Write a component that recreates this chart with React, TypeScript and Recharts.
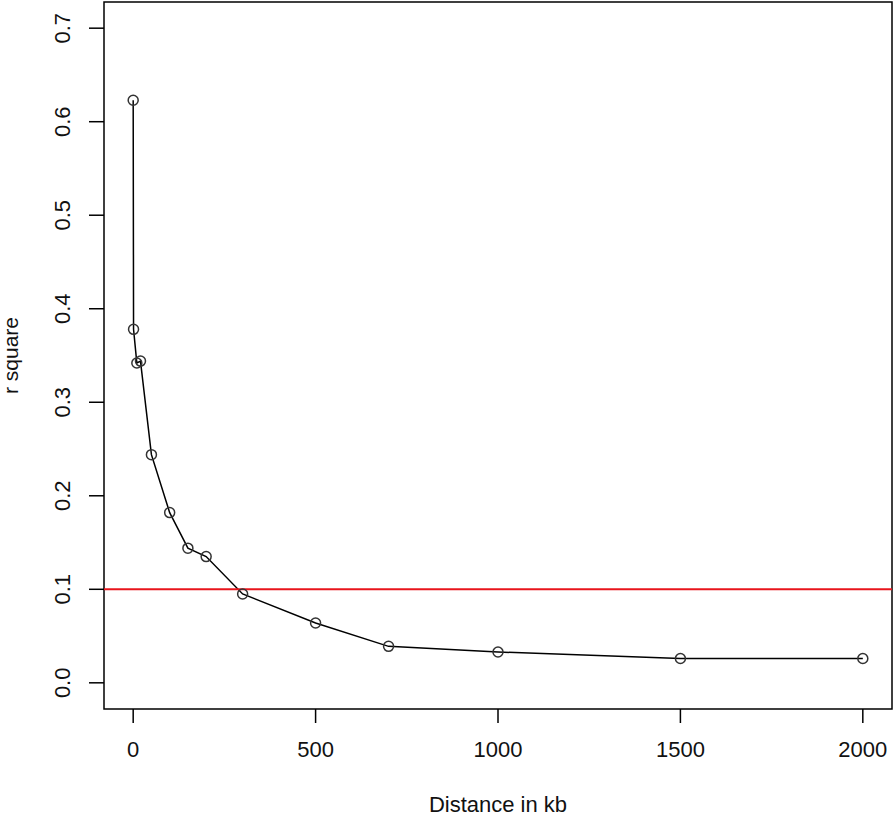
import {
  Line,
  LineChart,
  ReferenceArea,
  ReferenceLine,
  XAxis,
  YAxis,
} from "recharts";

const distances = [0, 1, 10, 20, 50, 100, 150, 200, 300, 500, 700, 1000, 1500, 2000];
const rSquare = [0.623, 0.378, 0.342, 0.344, 0.244, 0.182, 0.144, 0.135, 0.095, 0.064, 0.039, 0.033, 0.026, 0.026];
const xTicks = [0, 500, 1000, 1500, 2000];
const yTicks = [0, 0.1, 0.2, 0.3, 0.4, 0.5, 0.6, 0.7];
const threshold = 0.1;

const data = distances.map((d, i) => ({ dist: d, r2: rSquare[i] }));

const font = "'Liberation Sans', Arial, sans-serif";

const YTick = ({ x, y, payload }: any) => (
  <text
    x={x}
    y={y}
    transform={`rotate(-90, ${x}, ${y})`}
    textAnchor="middle"
    dominantBaseline="central"
    fontFamily={font}
    fontSize={22}
    fill="#111"
  >
    {payload.value.toFixed(1)}
  </text>
);

const Circle = ({ cx, cy }: any) => (
  <circle cx={cx} cy={cy} r={5} fill="none" stroke="#333" strokeWidth={1.5} />
);

export default function App() {
  return (
    <div style={{ position: "absolute", left: 0, top: 0, background: "#fff" }}>
      <LineChart
        width={896}
        height={815}
        data={data}
        margin={{ top: 2, right: 4, bottom: 0, left: 0 }}
      >
        <XAxis
          dataKey="dist"
          type="number"
          domain={[-80, 2080]}
          ticks={xTicks}
          height={106}
          axisLine={false}
          tickSize={14}
          tickMargin={18}
          tickLine={{ stroke: "#000", strokeWidth: 1.5 }}
          tick={{ fontFamily: font, fontSize: 22, fill: "#111" }}
          label={({ viewBox }: any) => (
            <text
              x={viewBox.x + viewBox.width / 2}
              y={804}
              textAnchor="middle"
              dominantBaseline="central"
              fontFamily={font}
              fontSize={22}
              fill="#111"
            >
              Distance in kb
            </text>
          )}
        />
        <YAxis
          type="number"
          domain={[-0.028, 0.728]}
          ticks={yTicks}
          width={104}
          axisLine={false}
          tickSize={15}
          tickMargin={26}
          tickLine={{ stroke: "#000", strokeWidth: 1.5 }}
          tick={<YTick />}
          label={({ viewBox }: any) => (
            <text
              x={10}
              y={viewBox.y + viewBox.height / 2}
              transform={`rotate(-90, 10, ${viewBox.y + viewBox.height / 2})`}
              textAnchor="middle"
              dominantBaseline="central"
              fontFamily={font}
              fontSize={21}
              fill="#111"
            >
              r square
            </text>
          )}
        />
        <ReferenceArea
          x1={-80}
          x2={2080}
          y1={-0.028}
          y2={0.728}
          fill="none"
          stroke="#000"
          strokeWidth={1.5}
          fillOpacity={0}
        />
        <Line
          type="linear"
          dataKey="r2"
          stroke="#000"
          strokeWidth={1.5}
          dot={<Circle />}
          activeDot={false}
          isAnimationActive={false}
        />
        <ReferenceLine y={threshold} stroke="#e8141c" strokeWidth={2} />
      </LineChart>
    </div>
  );
}
